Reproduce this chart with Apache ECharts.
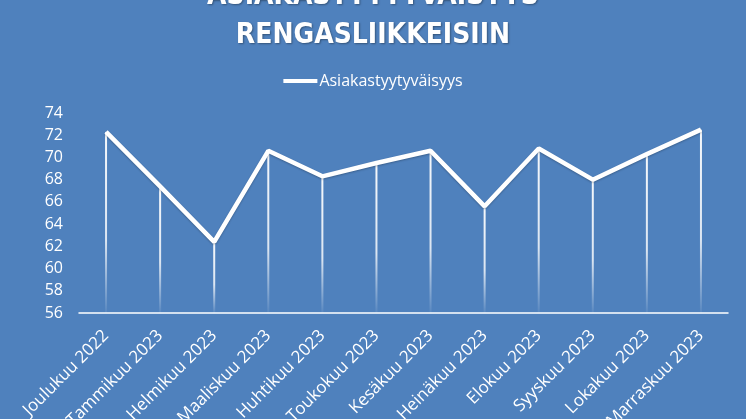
<!DOCTYPE html>
<html>
<head>
<meta charset="utf-8">
<script src="https://cdn.jsdelivr.net/npm/echarts@6/dist/echarts.min.js"></script>
<style>
html,body{margin:0;padding:0;background:#4F81BD;}
#c{width:746px;height:419px;}
</style>
</head>
<body>
<div id="c"></div>
<script>
const categories = ['Joulukuu 2022','Tammikuu 2023','Helmikuu 2023','Maaliskuu 2023','Huhtikuu 2023','Toukokuu 2023','Kesäkuu 2023','Heinäkuu 2023','Elokuu 2023','Syyskuu 2023','Lokakuu 2023','Marraskuu 2023'];
const satisfaction = [72.3, 67.4, 62.4, 70.6, 68.3, 69.5, 70.6, 65.6, 70.8, 68.0, 70.3, 72.5];
const yTicks = {min: 56, max: 74, interval: 2};
const seriesName = 'Asiakastyytyväisyys';
const titleText = 'ASIAKASTYYTYVÄISYYS\nRENGASLIIKKEISIIN';

const chart = echarts.init(document.getElementById('c'));
const fontBody = '"Open Sans", "Noto Sans", sans-serif';
chart.setOption({
  backgroundColor: '#4F81BD',
  animation: false,
  title: {
    text: titleText,
    left: 'center',
    top: -28,
    textStyle: {
      color: '#fff',
      fontSize: 28,
      fontWeight: 'bold',
      lineHeight: 39,
      fontFamily: '"Liberation Sans Narrow", "DejaVu Sans Condensed", "Open Sans", sans-serif',
      textShadowColor: 'rgba(0,0,0,0.35)',
      textShadowBlur: 2,
      textShadowOffsetX: 1,
      textShadowOffsetY: 1
    }
  },
  legend: {
    data: [{name: seriesName, icon: 'rect'}],
    top: 68,
    left: 'center',
    itemWidth: 34,
    itemHeight: 4,
    itemGap: 4,
    textStyle: {color: '#fff', fontSize: 16, fontFamily: fontBody, padding: [0, 0, 0, -3]}
  },
  grid: {left: 79, right: 18, top: 113, bottom: 106, containLabel: false, outerBoundsMode: 'none'},
  xAxis: {
    type: 'category',
    data: categories,
    boundaryGap: true,
    axisLine: {lineStyle: {color: '#fff', width: 1.5}},
    axisTick: {show: false},
    axisLabel: {rotate: 45, color: '#fff', fontSize: 17, fontFamily: fontBody, margin: 20, interval: 0, hideOverlap: false}
  },
  yAxis: {
    type: 'value',
    min: yTicks.min,
    max: yTicks.max,
    interval: yTicks.interval,
    axisLine: {show: false},
    axisTick: {show: false},
    splitLine: {show: false},
    axisLabel: {color: '#fff', fontSize: 16, fontFamily: fontBody, margin: 16}
  },
  series: [
    {
      name: 'drop',
      type: 'bar',
      data: satisfaction,
      barWidth: 2,
      silent: true,
      itemStyle: {
        color: new echarts.graphic.LinearGradient(0, 0, 0, 1, [
          {offset: 0, color: 'rgba(255,255,255,0.95)'},
          {offset: 0.6, color: 'rgba(255,255,255,0.8)'},
          {offset: 1, color: 'rgba(255,255,255,0.05)'}
        ])
      }
    },
    {
      name: seriesName,
      type: 'line',
      data: satisfaction,
      symbol: 'none',
      lineStyle: {color: '#fff', width: 4.5, shadowColor: 'rgba(0,0,0,0.25)', shadowBlur: 2, shadowOffsetY: 1},
      itemStyle: {color: '#fff'}
    }
  ]
});
</script>
</body>
</html>
